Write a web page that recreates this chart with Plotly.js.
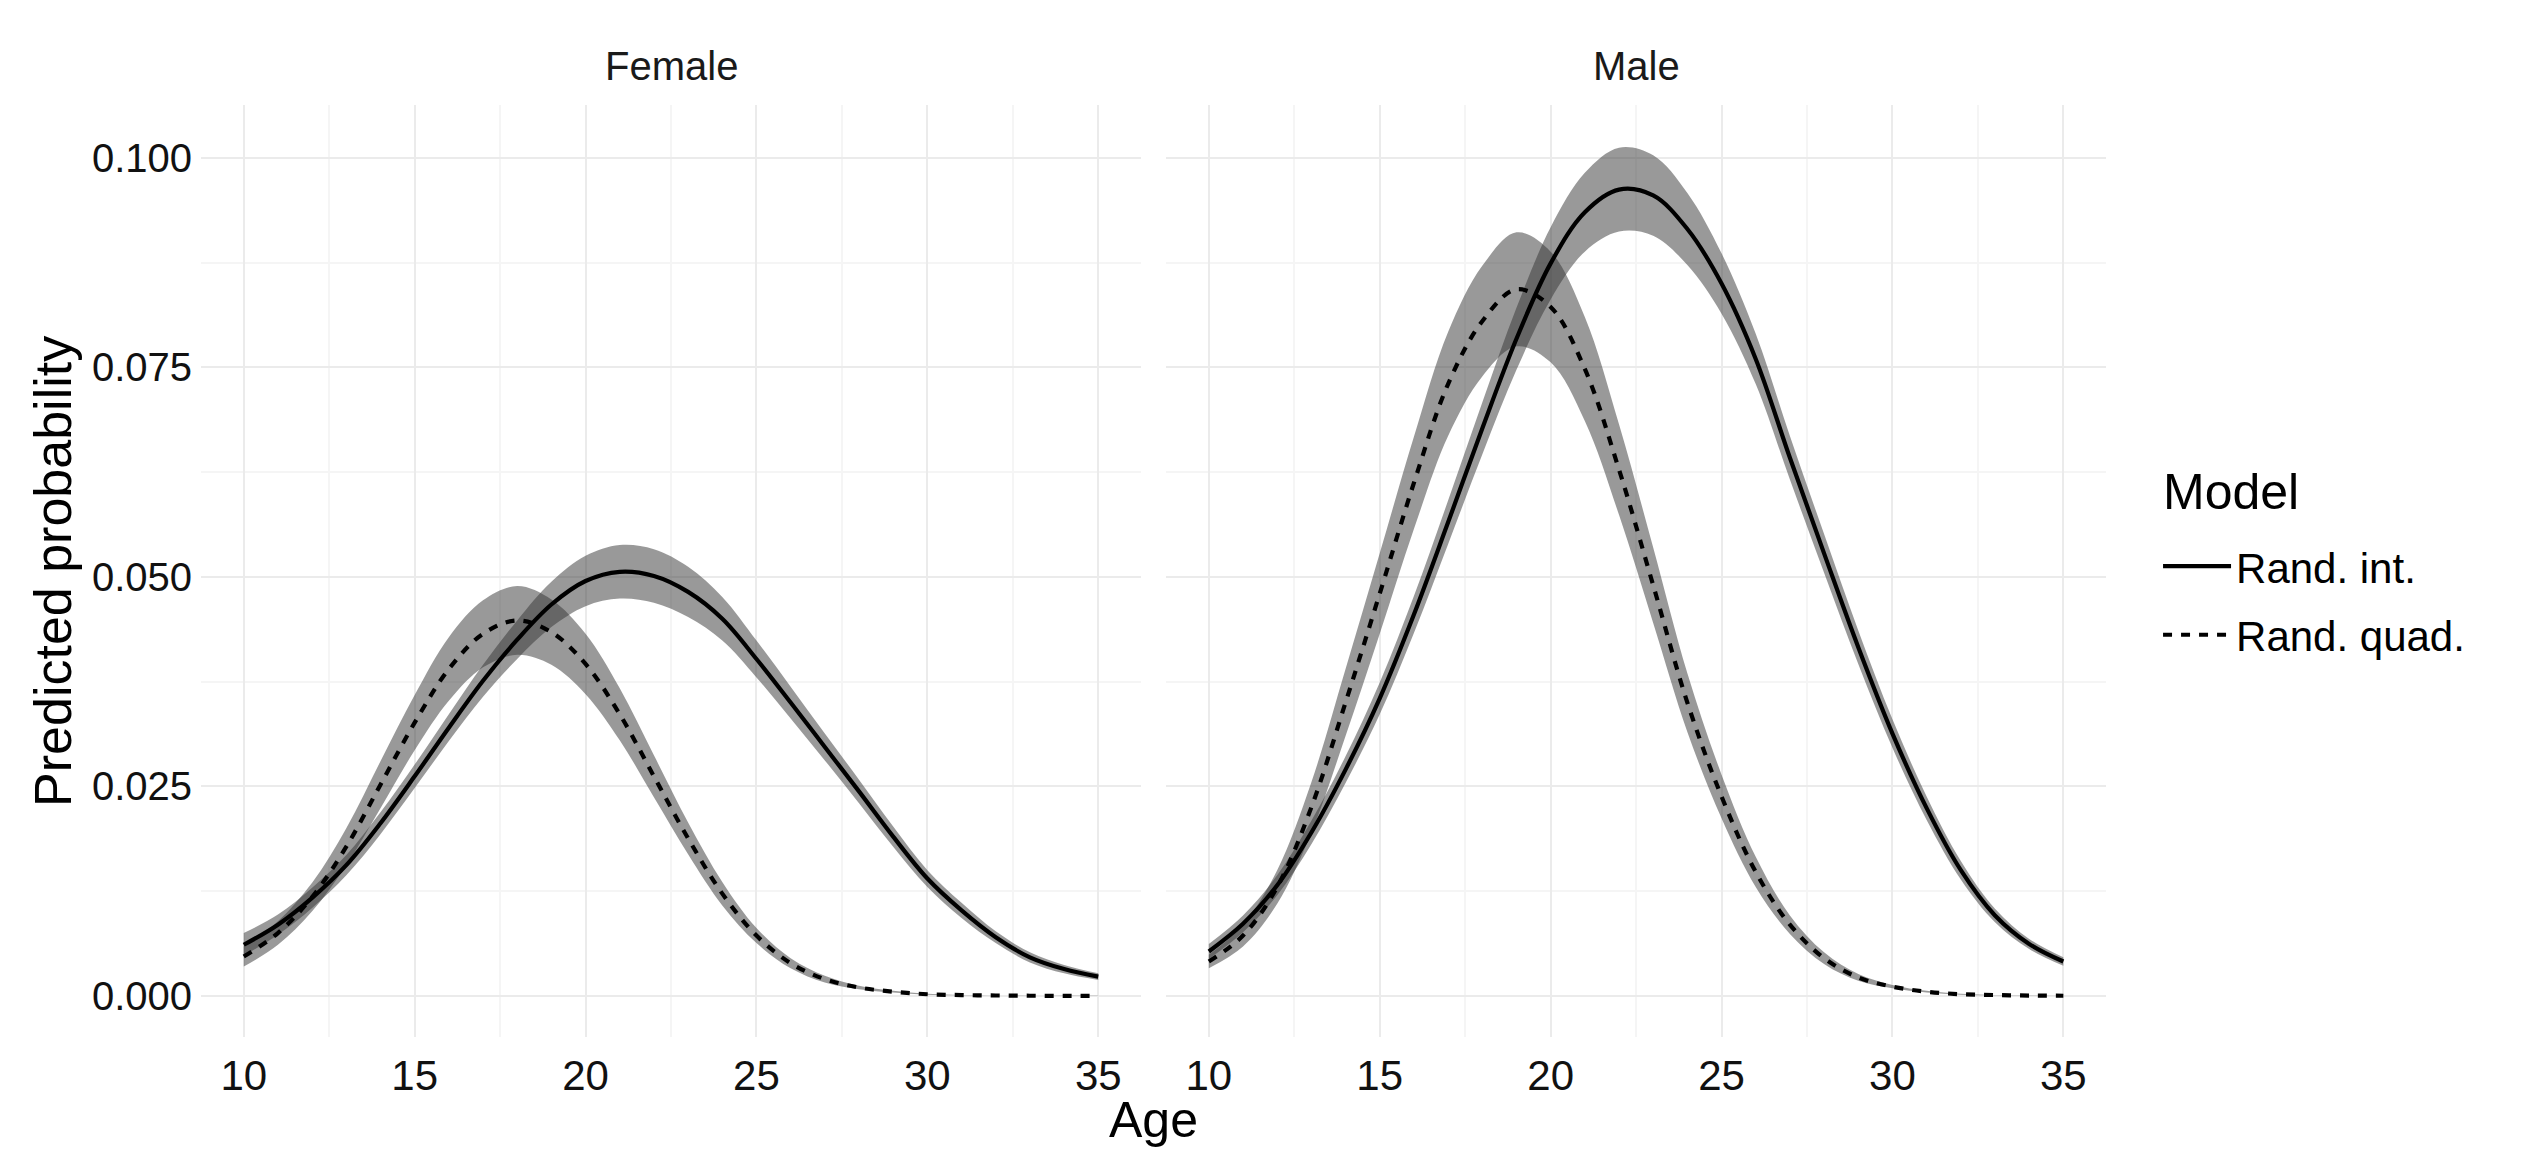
<!DOCTYPE html>
<html>
<head>
<meta charset="utf-8">
<script src="https://cdn.plot.ly/plotly-3.0.1.min.js"></script>
<style>
  html, body { margin: 0; padding: 0; background: #fff; }
  #chart { width: 2535px; height: 1170px; }
</style>
</head>
<body>
<div id="chart"></div>
<script>
// ages the predictions were read at
const age = [10,11,12,13,14,15,16,17,18,19,20,21,22,23,24,25,26,27,28,29,30,31,32,33,34,35];

const panels = ['Female', 'Male'];
const modelNames = ['Rand. int.', 'Rand. quad.'];
const legendTitle = 'Model';

// Female, random intercept model
const femIntFit = [.0061,.0085,.0117,.0156,.0206,.0262,.0320,.0376,.0425,.0467,.0495,.0506,.0501,.0482,.0450,.0402,.0350,.0297,.0244,.0190,.0140,.0102,.0070,.0046,.0032,.0023];
const femIntLo  = [.0048,.0073,.0105,.0144,.0193,.0248,.0304,.0357,.0402,.0440,.0465,.0474,.0469,.0452,.0424,.0380,.0331,.0281,.0230,.0178,.0130,.0093,.0063,.0040,.0027,.0019];
const femIntHi  = [.0075,.0097,.0129,.0168,.0219,.0276,.0336,.0395,.0448,.0494,.0525,.0538,.0533,.0512,.0476,.0424,.0369,.0313,.0258,.0202,.0150,.0111,.0077,.0052,.0037,.0027];

// Female, random quadratic model
const femQuadFit = [.0047,.0075,.0118,.0178,.0252,.0326,.0390,.0432,.0448,.0434,.0396,.0336,.0262,.0188,.0122,.0072,.0039,.0020,.0010,.0005,.0002,.0001,.00005,.00002,.00001,0];
const femQuadLo  = [.0035,.0061,.0101,.0156,.0224,.0293,.0352,.0392,.0407,.0395,.0360,.0305,.0237,.0169,.0108,.0063,.0033,.0016,.0008,.0004,.00015,.00008,.00004,.00001,0,0];
const femQuadHi  = [.0059,.0089,.0135,.0200,.0280,.0359,.0428,.0472,.0489,.0473,.0432,.0367,.0287,.0207,.0136,.0081,.0045,.0024,.0012,.0006,.00025,.00012,.00006,.00003,.00002,.00001];

// Male, random intercept model
const maleIntFit = [.0053,.0086,.0132,.0195,.0270,.0355,.0455,.0565,.0677,.0784,.0874,.0935,.0962,.0955,.0915,.0850,.0760,.0642,.0528,.0416,.0313,.0224,.0150,.0096,.0062,.0041];
const maleIntLo  = [.0044,.0076,.0120,.0181,.0254,.0336,.0433,.0539,.0646,.0747,.0831,.0888,.0912,.0907,.0872,.0814,.0730,.0616,.0505,.0396,.0296,.0210,.0139,.0088,.0056,.0036];
const maleIntHi  = [.0062,.0096,.0144,.0209,.0286,.0374,.0477,.0591,.0708,.0821,.0917,.0982,.1012,.1003,.0958,.0886,.0790,.0668,.0551,.0436,.0330,.0238,.0161,.0104,.0068,.0046];

// Male, random quadratic model
const maleQuadFit = [.0041,.0072,.0130,.0225,.0350,.0480,.0612,.0730,.0805,.0843,.0822,.0748,.0628,.0490,.0350,.0238,.0148,.0085,.0045,.0022,.0011,.0005,.0002,.0001,.00004,.00002];
const maleQuadLo  = [.0033,.0059,.0110,.0195,.0310,.0432,.0557,.0668,.0739,.0775,.0756,.0686,.0574,.0445,.0315,.0212,.0130,.0074,.0038,.0018,.0009,.0004,.00015,.00008,.00003,.00001];
const maleQuadHi  = [.0049,.0085,.0150,.0255,.0390,.0528,.0667,.0792,.0871,.0911,.0888,.0810,.0682,.0535,.0385,.0264,.0166,.0096,.0052,.0026,.0013,.0006,.00025,.00012,.00005,.00003];

const FONT = 'Liberation Sans, Arial, Helvetica, sans-serif';
const RIBBON = 'rgba(51,51,51,0.5)';
const DASH = '9px,9px';

function ribbon(lo, hi, xa, ya) {
  return [
    { x: age, y: lo, xaxis: xa, yaxis: ya, type: 'scatter', mode: 'lines',
      line: { width: 0, shape: 'spline', smoothing: 1 }, hoverinfo: 'skip', showlegend: false },
    { x: age, y: hi, xaxis: xa, yaxis: ya, type: 'scatter', mode: 'lines',
      fill: 'tonexty', fillcolor: RIBBON,
      line: { width: 0, shape: 'spline', smoothing: 1 }, hoverinfo: 'skip', showlegend: false }
  ];
}

function fitLine(y, xa, ya, name, dash, legend) {
  return {
    x: age, y: y, xaxis: xa, yaxis: ya, type: 'scatter', mode: 'lines',
    name: name, legendgroup: name, showlegend: legend,
    line: { color: '#000', width: 4.2, dash: dash, shape: 'spline', smoothing: 1 }
  };
}

const data = [
  ...ribbon(femIntLo, femIntHi, 'x', 'y'),
  ...ribbon(femQuadLo, femQuadHi, 'x', 'y'),
  ...ribbon(maleIntLo, maleIntHi, 'x2', 'y2'),
  ...ribbon(maleQuadLo, maleQuadHi, 'x2', 'y2'),
  fitLine(femIntFit, 'x', 'y', modelNames[0], 'solid', true),
  fitLine(femQuadFit, 'x', 'y', modelNames[1], DASH, true),
  fitLine(maleIntFit, 'x2', 'y2', modelNames[0], 'solid', false),
  fitLine(maleQuadFit, 'x2', 'y2', modelNames[1], DASH, false)
];

const xBase = {
  range: [8.75, 36.25],
  tick0: 10, dtick: 5,
  showgrid: true, gridcolor: '#ebebeb', gridwidth: 2,
  minor: { tick0: 10, dtick: 2.5, showgrid: true, gridcolor: '#f5f5f5', gridwidth: 2 },
  zeroline: false, showline: false, ticks: '',
  ticklabelstandoff: 10,
  tickfont: { family: FONT, size: 42, color: '#111' },
  fixedrange: true
};
const yBase = {
  range: [-0.0049, 0.1063],
  domain: [0.1137, 0.9103],
  tick0: 0, dtick: 0.025, tickformat: '.3f',
  showgrid: true, gridcolor: '#ebebeb', gridwidth: 2,
  minor: { tick0: 0, dtick: 0.0125, showgrid: true, gridcolor: '#f5f5f5', gridwidth: 2 },
  zeroline: false, showline: false, ticks: '',
  ticklabelstandoff: 8,
  tickfont: { family: FONT, size: 40, color: '#111' },
  fixedrange: true
};

const layout = {
  width: 2535, height: 1170,
  margin: { l: 0, r: 0, t: 0, b: 0 },
  paper_bgcolor: '#fff', plot_bgcolor: '#fff',
  font: { family: FONT, color: '#000' },
  xaxis: Object.assign({}, xBase, { domain: [0.0793, 0.4501], anchor: 'y' }),
  yaxis: Object.assign({}, yBase, { anchor: 'x' }),
  xaxis2: Object.assign({}, xBase, { domain: [0.46, 0.8308], anchor: 'y2' }),
  yaxis2: Object.assign({}, yBase, { anchor: 'x2', matches: 'y', showticklabels: false }),
  showlegend: true,
  legend: {
    x: 0.8513, y: 0.545, xanchor: 'left', yanchor: 'top',
    bgcolor: 'rgba(0,0,0,0)',
    font: { family: FONT, size: 42, color: '#000' },
    itemwidth: 68, tracegroupgap: 11
  },
  annotations: [
    { text: panels[0], xref: 'paper', yref: 'paper', x: 0.2647, y: 0.9436,
      xanchor: 'center', yanchor: 'middle', showarrow: false,
      font: { family: FONT, size: 40, color: '#1a1a1a' } },
    { text: panels[1], xref: 'paper', yref: 'paper', x: 0.6454, y: 0.9436,
      xanchor: 'center', yanchor: 'middle', showarrow: false,
      font: { family: FONT, size: 40, color: '#1a1a1a' } },
    { text: 'Predicted probability', xref: 'paper', yref: 'paper', x: 0.0209, y: 0.512,
      xanchor: 'center', yanchor: 'middle', textangle: -90, showarrow: false,
      font: { family: FONT, size: 52, color: '#000' } },
    { text: 'Age', xref: 'paper', yref: 'paper', x: 0.455, y: 0.0427,
      xanchor: 'center', yanchor: 'middle', showarrow: false,
      font: { family: FONT, size: 50, color: '#000' } },
    { text: legendTitle, xref: 'paper', yref: 'paper', x: 0.8525, y: 0.5795,
      xanchor: 'left', yanchor: 'middle', showarrow: false,
      font: { family: FONT, size: 50, color: '#000' } }
  ]
};

Plotly.newPlot('chart', data, layout, { displayModeBar: false, staticPlot: true });
</script>
</body>
</html>
